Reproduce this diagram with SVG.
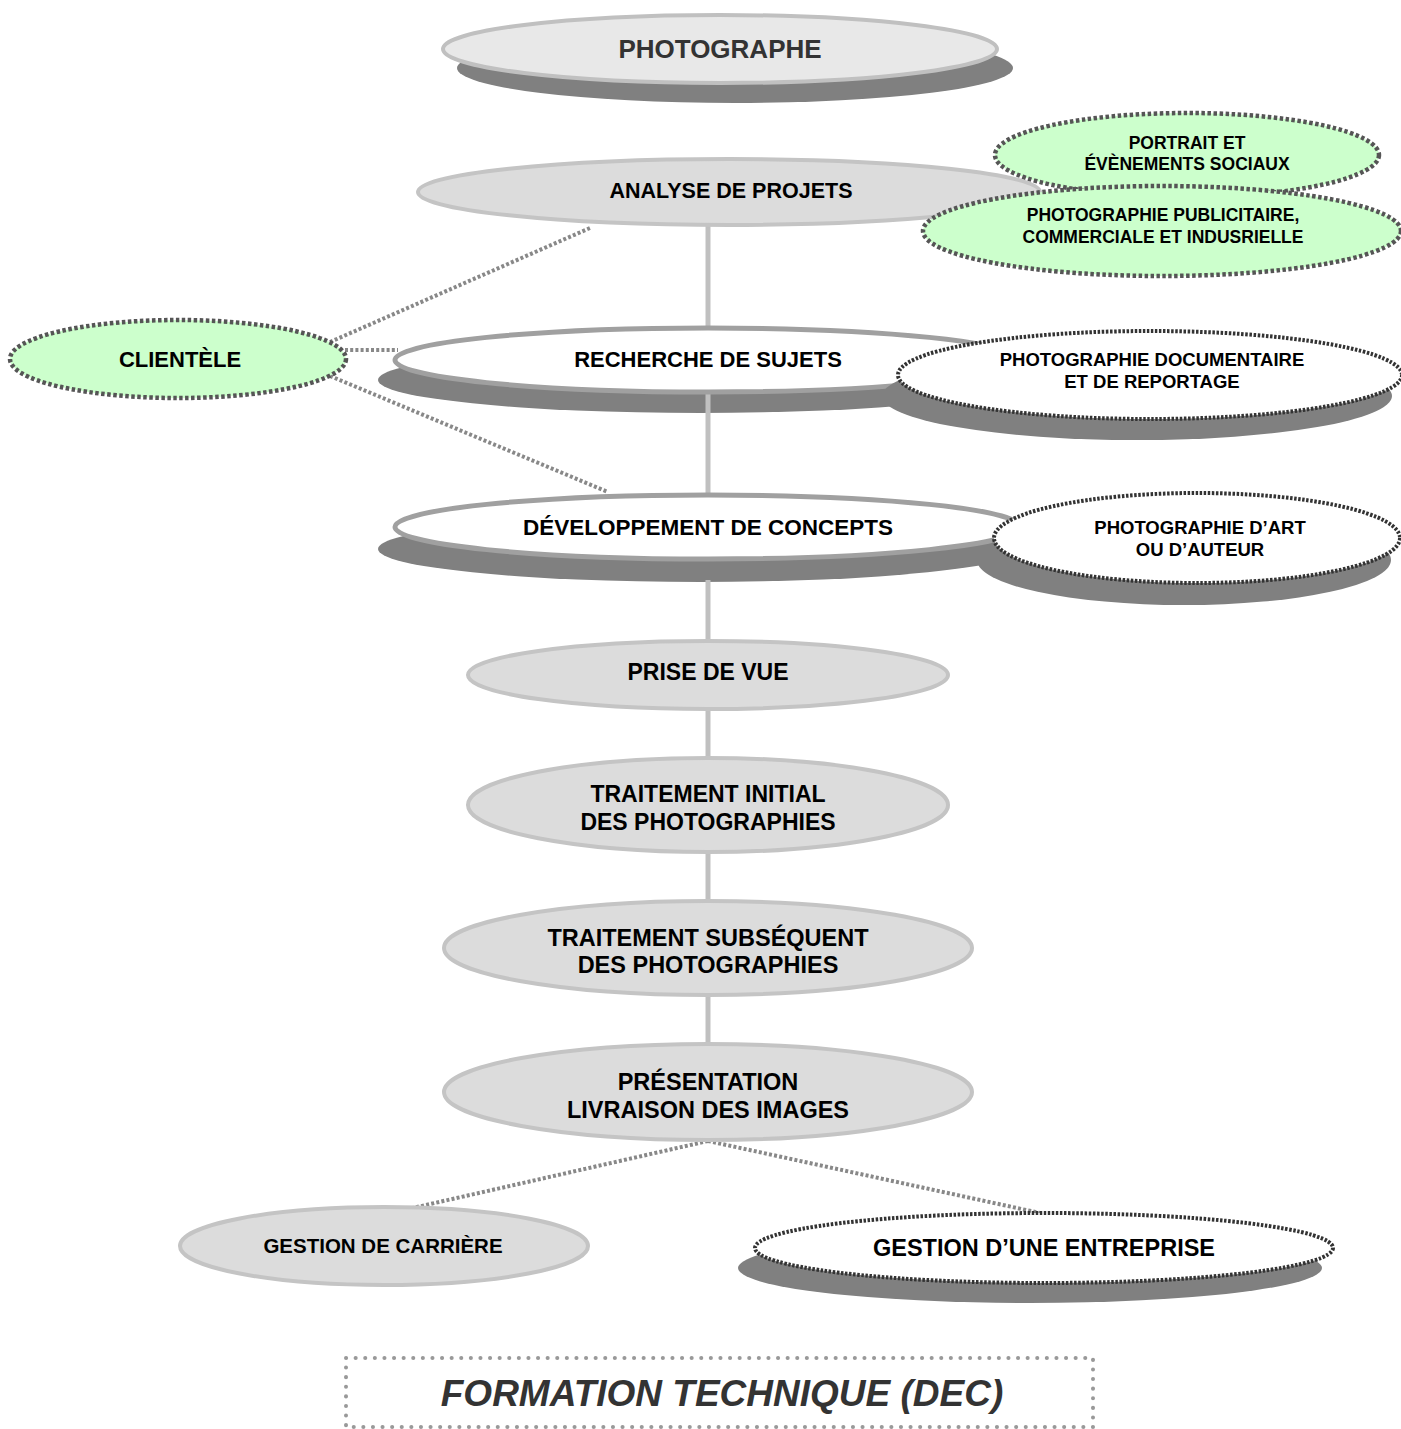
<svg xmlns="http://www.w3.org/2000/svg" width="1401" height="1429" viewBox="0 0 1401 1429">
<style>
text{font-family:"Liberation Sans",Arial,sans-serif;font-weight:bold;text-anchor:middle;dominant-baseline:central;fill:#000}
.shadow{fill:#808080}
.gray{fill:#dcdcdc;stroke:#c4c4c4;stroke-width:4}
.white{fill:#fff;stroke:#a0a0a0;stroke-width:5}
.green{fill:#ccffcc;stroke:#555;stroke-width:4.5;stroke-dasharray:3.5 2.5}
.wdot{fill:#fff;stroke:#333;stroke-width:4;stroke-dasharray:2.5 1.6}
.solid{stroke:#c0c0c0;stroke-width:5;fill:none}
.dots{stroke:#888;stroke-width:4;stroke-dasharray:3 2.2;fill:none}
</style>
<rect width="1401" height="1429" fill="#fff"/>

<g id="shadows">
<ellipse class="shadow" cx="735" cy="68" rx="278" ry="35"/>
<ellipse class="shadow" cx="700" cy="380" rx="322" ry="33"/>
<ellipse class="shadow" cx="700" cy="549" rx="322" ry="33"/>
</g>

<g id="connectors">
<line class="solid" x1="708" y1="226" x2="708" y2="330"/>
<line class="solid" x1="708" y1="392" x2="708" y2="497"/>
<line class="solid" x1="708" y1="580" x2="708" y2="642"/>
<line class="solid" x1="708" y1="708" x2="708" y2="759"/>
<line class="solid" x1="708" y1="851" x2="708" y2="902"/>
<line class="solid" x1="708" y1="993" x2="708" y2="1044"/>
<line class="dots" x1="330" y1="342" x2="590" y2="228"/>
<line class="dots" x1="345" y1="350" x2="398" y2="350"/>
<line class="dots" x1="330" y1="376" x2="608" y2="492"/>
<line class="dots" x1="708" y1="1141" x2="395" y2="1212"/>
<line class="dots" x1="708" y1="1141" x2="1040" y2="1213"/>
<rect x="371" y="1209" width="2" height="4" fill="#000"/>
</g>

<g id="n-photographe">
<ellipse cx="720" cy="49" rx="277" ry="34" fill="#e8e8e8" stroke="#c0c0c0" stroke-width="4"/>
<text x="720" y="49" font-size="26" style="fill:#333">PHOTOGRAPHE</text>
</g>

<g id="n-analyse">
<ellipse class="gray" cx="729" cy="192" rx="311" ry="33"/>
<text x="731" y="191" font-size="21.5">ANALYSE DE PROJETS</text>
</g>

<g id="n-portrait">
<ellipse class="green" cx="1187" cy="155" rx="192" ry="42"/>
<text x="1187" y="143" font-size="17.5">PORTRAIT ET</text>
<text x="1187" y="164" font-size="17.5">ÉVÈNEMENTS SOCIAUX</text>
</g>

<g id="n-publicitaire">
<ellipse class="green" cx="1162" cy="231" rx="239" ry="45"/>
<text x="1163" y="215" font-size="17.5">PHOTOGRAPHIE PUBLICITAIRE,</text>
<text x="1163" y="237" font-size="17.5">COMMERCIALE ET INDUSRIELLE</text>
</g>

<g id="n-clientele">
<ellipse class="green" cx="178" cy="359" rx="168" ry="39"/>
<text x="180" y="359" font-size="22">CLIENTÈLE</text>
</g>

<g id="n-recherche">
<ellipse class="white" cx="708" cy="360" rx="313" ry="32"/>
<text x="708" y="359" font-size="22">RECHERCHE DE SUJETS</text>
</g>

<g id="n-documentaire">
<ellipse class="shadow" cx="1137" cy="396" rx="255" ry="44"/>
<ellipse class="wdot" cx="1150" cy="375" rx="252" ry="44"/>
<text x="1152" y="359" font-size="18.5">PHOTOGRAPHIE DOCUMENTAIRE</text>
<text x="1152" y="381" font-size="18.5">ET DE REPORTAGE</text>
</g>

<g id="n-developpement">
<ellipse class="white" cx="708" cy="527" rx="313" ry="32"/>
<text x="708" y="527" font-size="22.5">DÉVELOPPEMENT DE CONCEPTS</text>
</g>

<g id="n-art">
<ellipse class="shadow" cx="1184" cy="560" rx="207" ry="45"/>
<ellipse class="wdot" cx="1197" cy="538" rx="203" ry="45"/>
<text x="1200" y="527" font-size="18.5">PHOTOGRAPHIE D’ART</text>
<text x="1200" y="549" font-size="18.5">OU D’AUTEUR</text>
</g>

<g id="n-prise">
<ellipse class="gray" cx="708" cy="675" rx="240" ry="34"/>
<text x="708" y="672" font-size="23">PRISE DE VUE</text>
</g>

<g id="n-initial">
<ellipse class="gray" cx="708" cy="805" rx="240" ry="47"/>
<text x="708" y="794" font-size="23">TRAITEMENT INITIAL</text>
<text x="708" y="822" font-size="23">DES PHOTOGRAPHIES</text>
</g>

<g id="n-subsequent">
<ellipse class="gray" cx="708" cy="948" rx="264" ry="47"/>
<text x="708" y="938" font-size="23.5">TRAITEMENT SUBSÉQUENT</text>
<text x="708" y="965" font-size="23.5">DES PHOTOGRAPHIES</text>
</g>

<g id="n-presentation">
<ellipse class="gray" cx="708" cy="1092" rx="264" ry="48"/>
<text x="708" y="1082" font-size="23.5">PRÉSENTATION</text>
<text x="708" y="1110" font-size="23.5">LIVRAISON DES IMAGES</text>
</g>

<g id="n-carriere">
<ellipse class="gray" cx="384" cy="1246" rx="204" ry="39"/>
<text x="383" y="1245" font-size="20.5">GESTION DE CARRIÈRE</text>
</g>

<g id="n-entreprise">
<ellipse class="shadow" cx="1030" cy="1268" rx="292" ry="35"/>
<ellipse class="wdot" cx="1044" cy="1248" rx="289" ry="35"/>
<text x="1044" y="1248" font-size="23.5">GESTION D’UNE ENTREPRISE</text>
</g>

<g id="n-formation">
<rect x="346" y="1358" width="747" height="69" fill="#fff" stroke="#999" stroke-width="4" stroke-linecap="round" stroke-dasharray="0.1 9.5"/>
<text x="722" y="1393" font-size="37" font-style="italic" style="fill:#333">FORMATION TECHNIQUE (DEC)</text>
</g>
</svg>
